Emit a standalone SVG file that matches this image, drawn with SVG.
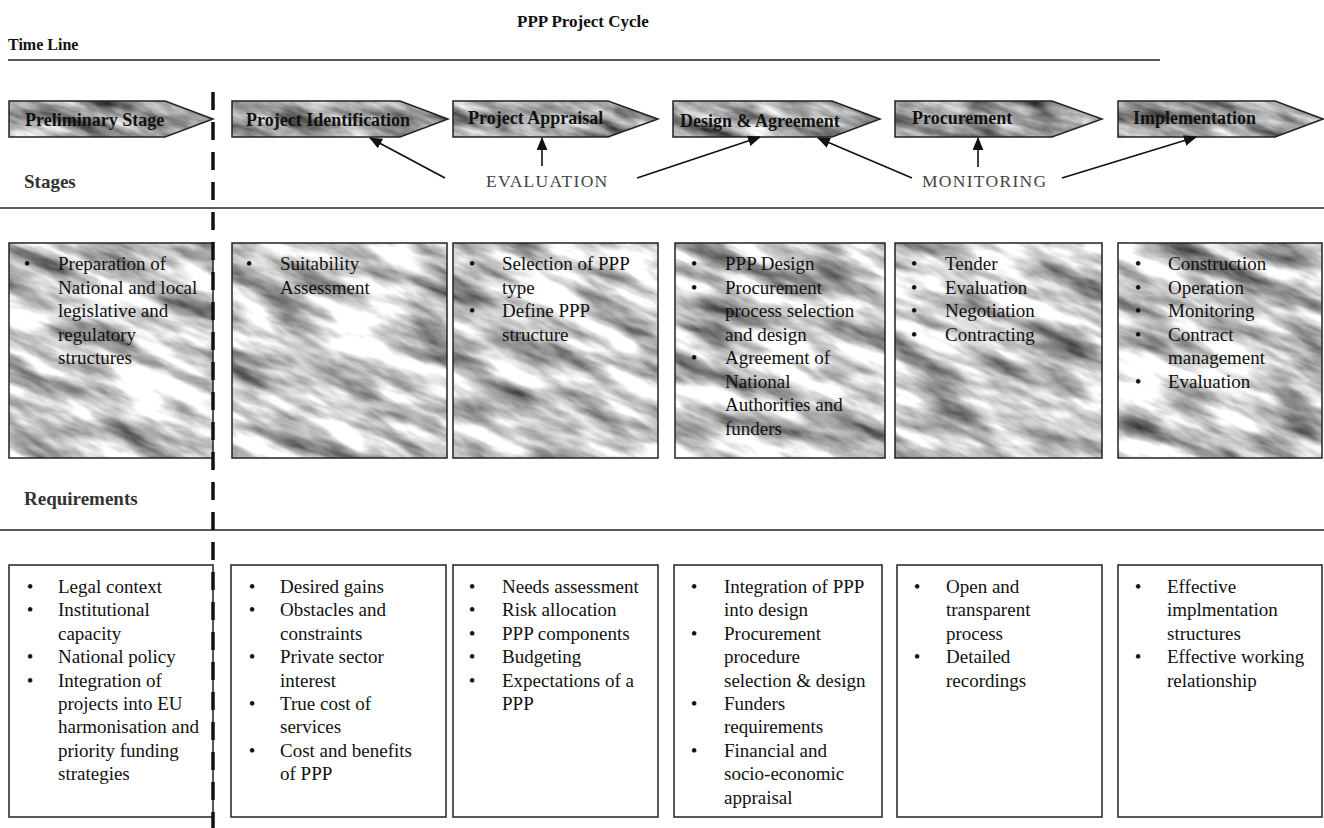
<svg xmlns="http://www.w3.org/2000/svg" width="1324" height="828" viewBox="0 0 1324 828">
<style>
  .t { font-family: "Liberation Serif", "Times New Roman", serif; fill: #111; }
  .title { font-size: 17px; font-weight: bold; }
  .hdr { font-size: 16px; font-weight: bold; }
  .sec { font-size: 19px; font-weight: bold; fill: #333; }
  .stg { font-size: 18px; font-weight: bold; }
  .cap { font-size: 17.5px; letter-spacing: 1.3px; fill: #444; }
  .b { font-size: 19px; }
  .bul { font-size: 19px; text-anchor: middle; }
  .rule { stroke: #222; stroke-width: 1.5; fill: none; }
  .box { fill: none; stroke: #222; stroke-width: 1.5; }
  .conn { stroke: #111; stroke-width: 1.6; fill: none; marker-end: url(#ah); }
  .lt { fill: url(#patL); }
  .dk { fill: url(#patD); }
</style>
<defs>
  <marker id="ah" viewBox="0 0 12 10" refX="11" refY="5" markerWidth="13" markerHeight="11" markerUnits="userSpaceOnUse" orient="auto">
    <path d="M0,0 L12,5 L0,10 z" fill="#111"/>
  </marker>
  <filter id="tex" x="0" y="0" width="100%" height="100%" color-interpolation-filters="sRGB">
    <feTurbulence type="fractalNoise" baseFrequency="0.012 0.045" numOctaves="4" seed="7" stitchTiles="stitch" result="n"/>
    <feColorMatrix in="n" type="matrix" values="1.5 0 0 0 0.04  1.5 0 0 0 0.04  1.5 0 0 0 0.04  0 0 0 0 1"/>
  </filter>
  <filter id="texd" x="0" y="0" width="100%" height="100%" color-interpolation-filters="sRGB">
    <feTurbulence type="fractalNoise" baseFrequency="0.02 0.07" numOctaves="4" seed="11" stitchTiles="stitch" result="n"/>
    <feColorMatrix in="n" type="matrix" values="1.1 0 0 0 0.08  1.1 0 0 0 0.08  1.1 0 0 0 0.08  0 0 0 0 1"/>
  </filter>
  <pattern id="patL" patternUnits="userSpaceOnUse" x="0" y="0" width="1400" height="900" patternTransform="rotate(22)">
    <rect width="1400" height="900" fill="#bbb" filter="url(#tex)"/>
  </pattern>
  <pattern id="patD" patternUnits="userSpaceOnUse" x="0" y="0" width="1400" height="900" patternTransform="rotate(18)">
    <rect width="1400" height="900" fill="#999" filter="url(#texd)"/>
  </pattern>
</defs>
<rect width="1324" height="828" fill="#fff"/>

<g id="header">
  <text class="t title" x="517" y="27">PPP Project Cycle</text>
  <text class="t hdr" x="8" y="50">Time Line</text>
  <line class="rule" x1="8" y1="60" x2="1160" y2="60"/>
  <line class="rule" x1="0" y1="208" x2="1324" y2="208"/>
  <line class="rule" x1="0" y1="530" x2="1324" y2="530"/>
  <text class="t sec" x="24" y="188">Stages</text>
  <text class="t sec" x="24" y="505">Requirements</text>
</g>

<g id="stage-preliminary">
  <polygon class="dk" points="9,101 165,101 213,119 165,137 9,137"/>
  <polygon class="box" points="9,101 165,101 213,119 165,137 9,137"/>
  <text class="t stg" x="25" y="126">Preliminary Stage</text>
</g>
<g id="stage-identification">
  <polygon class="dk" points="232,101 400,101 448,119 400,137 232,137"/>
  <polygon class="box" points="232,101 400,101 448,119 400,137 232,137"/>
  <text class="t stg" x="246" y="126">Project Identification</text>
</g>
<g id="stage-appraisal">
  <polygon class="dk" points="453,101 608,101 658,119 608,137 453,137"/>
  <polygon class="box" points="453,101 608,101 658,119 608,137 453,137"/>
  <text class="t stg" x="468" y="124">Project Appraisal</text>
</g>
<g id="stage-design">
  <polygon class="dk" points="673,101 832,101 880,119 832,137 673,137"/>
  <polygon class="box" points="673,101 832,101 880,119 832,137 673,137"/>
  <text class="t stg" x="680" y="127">Design &amp; Agreement</text>
</g>
<g id="stage-procurement">
  <polygon class="dk" points="895,101 1052,101 1102,119 1052,137 895,137"/>
  <polygon class="box" points="895,101 1052,101 1102,119 1052,137 895,137"/>
  <text class="t stg" x="912" y="124">Procurement</text>
</g>
<g id="stage-implementation">
  <polygon class="dk" points="1118,101 1275,101 1323,119 1275,137 1118,137"/>
  <polygon class="box" points="1118,101 1275,101 1323,119 1275,137 1118,137"/>
  <text class="t stg" x="1133" y="124">Implementation</text>
</g>

<g id="label-evaluation">
  <text class="t cap" x="486" y="187">EVALUATION</text>
</g>
<g id="label-monitoring">
  <text class="t cap" x="922" y="187">MONITORING</text>
</g>

<g id="connectors">
  <line class="conn" x1="445" y1="178" x2="370" y2="138"/>
  <line class="conn" x1="542" y1="166" x2="542" y2="138"/>
  <line class="conn" x1="637" y1="178" x2="760" y2="137"/>
  <line class="conn" x1="912" y1="178" x2="818" y2="138"/>
  <line class="conn" x1="978" y1="167" x2="978" y2="138"/>
  <line class="conn" x1="1062" y1="178" x2="1196" y2="137"/>
</g>

<g id="activities-preliminary">
  <rect class="lt" x="9" y="243" width="204" height="215"/>
  <rect class="box" x="9" y="243" width="204" height="215"/>
  <text class="t bul" x="27" y="270">•</text>
  <text class="t b" x="58" y="270">Preparation of</text>
  <text class="t b" x="58" y="293.5">National and local</text>
  <text class="t b" x="58" y="317">legislative and</text>
  <text class="t b" x="58" y="340.5">regulatory</text>
  <text class="t b" x="58" y="364">structures</text>
</g>
<g id="activities-identification">
  <rect class="lt" x="232" y="243" width="215" height="215"/>
  <rect class="box" x="232" y="243" width="215" height="215"/>
  <text class="t bul" x="249" y="270">•</text>
  <text class="t b" x="280" y="270">Suitability</text>
  <text class="t b" x="280" y="293.5">Assessment</text>
</g>
<g id="activities-appraisal">
  <rect class="lt" x="453" y="243" width="205" height="215"/>
  <rect class="box" x="453" y="243" width="205" height="215"/>
  <text class="t bul" x="472" y="270">•</text>
  <text class="t b" x="502" y="270">Selection of PPP</text>
  <text class="t b" x="502" y="293.5">type</text>
  <text class="t bul" x="472" y="317">•</text>
  <text class="t b" x="502" y="317">Define PPP</text>
  <text class="t b" x="502" y="340.5">structure</text>
</g>
<g id="activities-design">
  <rect class="lt" x="675" y="243" width="210" height="215"/>
  <rect class="box" x="675" y="243" width="210" height="215"/>
  <text class="t bul" x="694" y="270">•</text>
  <text class="t b" x="725" y="270">PPP Design</text>
  <text class="t bul" x="694" y="293.5">•</text>
  <text class="t b" x="725" y="293.5">Procurement</text>
  <text class="t b" x="725" y="317">process selection</text>
  <text class="t b" x="725" y="340.5">and design</text>
  <text class="t bul" x="694" y="364">•</text>
  <text class="t b" x="725" y="364">Agreement of</text>
  <text class="t b" x="725" y="387.5">National</text>
  <text class="t b" x="725" y="411">Authorities and</text>
  <text class="t b" x="725" y="434.5">funders</text>
</g>
<g id="activities-procurement">
  <rect class="lt" x="895" y="243" width="207" height="215"/>
  <rect class="box" x="895" y="243" width="207" height="215"/>
  <text class="t bul" x="914" y="270">•</text>
  <text class="t b" x="945" y="270">Tender</text>
  <text class="t bul" x="914" y="293.5">•</text>
  <text class="t b" x="945" y="293.5">Evaluation</text>
  <text class="t bul" x="914" y="317">•</text>
  <text class="t b" x="945" y="317">Negotiation</text>
  <text class="t bul" x="914" y="340.5">•</text>
  <text class="t b" x="945" y="340.5">Contracting</text>
</g>
<g id="activities-implementation">
  <rect class="lt" x="1118" y="243" width="204" height="215"/>
  <rect class="box" x="1118" y="243" width="204" height="215"/>
  <text class="t bul" x="1138" y="270">•</text>
  <text class="t b" x="1168" y="270">Construction</text>
  <text class="t bul" x="1138" y="293.5">•</text>
  <text class="t b" x="1168" y="293.5">Operation</text>
  <text class="t bul" x="1138" y="317">•</text>
  <text class="t b" x="1168" y="317">Monitoring</text>
  <text class="t bul" x="1138" y="340.5">•</text>
  <text class="t b" x="1168" y="340.5">Contract</text>
  <text class="t b" x="1168" y="364">management</text>
  <text class="t bul" x="1138" y="387.5">•</text>
  <text class="t b" x="1168" y="387.5">Evaluation</text>
</g>

<g id="requirements-preliminary">
  <rect class="box" x="9" y="565" width="204" height="252"/>
  <text class="t bul" x="30" y="593">•</text>
  <text class="t b" x="58" y="593">Legal context</text>
  <text class="t bul" x="30" y="616.4">•</text>
  <text class="t b" x="58" y="616.4">Institutional</text>
  <text class="t b" x="58" y="639.8">capacity</text>
  <text class="t bul" x="30" y="663.2">•</text>
  <text class="t b" x="58" y="663.2">National policy</text>
  <text class="t bul" x="30" y="686.6">•</text>
  <text class="t b" x="58" y="686.6">Integration of</text>
  <text class="t b" x="58" y="710">projects into EU</text>
  <text class="t b" x="58" y="733.4">harmonisation and</text>
  <text class="t b" x="58" y="756.8">priority funding</text>
  <text class="t b" x="58" y="780.2">strategies</text>
</g>
<g id="requirements-identification">
  <rect class="box" x="231" y="565" width="215" height="252"/>
  <text class="t bul" x="252" y="593">•</text>
  <text class="t b" x="280" y="593">Desired gains</text>
  <text class="t bul" x="252" y="616.4">•</text>
  <text class="t b" x="280" y="616.4">Obstacles and</text>
  <text class="t b" x="280" y="639.8">constraints</text>
  <text class="t bul" x="252" y="663.2">•</text>
  <text class="t b" x="280" y="663.2">Private sector</text>
  <text class="t b" x="280" y="686.6">interest</text>
  <text class="t bul" x="252" y="710">•</text>
  <text class="t b" x="280" y="710">True cost of</text>
  <text class="t b" x="280" y="733.4">services</text>
  <text class="t bul" x="252" y="756.8">•</text>
  <text class="t b" x="280" y="756.8">Cost and benefits</text>
  <text class="t b" x="280" y="780.2">of PPP</text>
</g>
<g id="requirements-appraisal">
  <rect class="box" x="453" y="565" width="205" height="252"/>
  <text class="t bul" x="472" y="593">•</text>
  <text class="t b" x="502" y="593">Needs assessment</text>
  <text class="t bul" x="472" y="616.4">•</text>
  <text class="t b" x="502" y="616.4">Risk allocation</text>
  <text class="t bul" x="472" y="639.8">•</text>
  <text class="t b" x="502" y="639.8">PPP components</text>
  <text class="t bul" x="472" y="663.2">•</text>
  <text class="t b" x="502" y="663.2">Budgeting</text>
  <text class="t bul" x="472" y="686.6">•</text>
  <text class="t b" x="502" y="686.6">Expectations of a</text>
  <text class="t b" x="502" y="710">PPP</text>
</g>
<g id="requirements-design">
  <rect class="box" x="674" y="565" width="208" height="252"/>
  <text class="t bul" x="694" y="593">•</text>
  <text class="t b" x="724" y="593">Integration of PPP</text>
  <text class="t b" x="724" y="616.4">into design</text>
  <text class="t bul" x="694" y="639.8">•</text>
  <text class="t b" x="724" y="639.8">Procurement</text>
  <text class="t b" x="724" y="663.2">procedure</text>
  <text class="t b" x="724" y="686.6">selection &amp; design</text>
  <text class="t bul" x="694" y="710">•</text>
  <text class="t b" x="724" y="710">Funders</text>
  <text class="t b" x="724" y="733.4">requirements</text>
  <text class="t bul" x="694" y="756.8">•</text>
  <text class="t b" x="724" y="756.8">Financial and</text>
  <text class="t b" x="724" y="780.2">socio-economic</text>
  <text class="t b" x="724" y="803.6">appraisal</text>
</g>
<g id="requirements-procurement">
  <rect class="box" x="897" y="565" width="205" height="252"/>
  <text class="t bul" x="917" y="593">•</text>
  <text class="t b" x="946" y="593">Open and</text>
  <text class="t b" x="946" y="616.4">transparent</text>
  <text class="t b" x="946" y="639.8">process</text>
  <text class="t bul" x="917" y="663.2">•</text>
  <text class="t b" x="946" y="663.2">Detailed</text>
  <text class="t b" x="946" y="686.6">recordings</text>
</g>
<g id="requirements-implementation">
  <rect class="box" x="1118" y="565" width="204" height="252"/>
  <text class="t bul" x="1138" y="593">•</text>
  <text class="t b" x="1167" y="593">Effective</text>
  <text class="t b" x="1167" y="616.4">implmentation</text>
  <text class="t b" x="1167" y="639.8">structures</text>
  <text class="t bul" x="1138" y="663.2">•</text>
  <text class="t b" x="1167" y="663.2">Effective working</text>
  <text class="t b" x="1167" y="686.6">relationship</text>
</g>

<g id="timeline-divider">
  <line x1="213" y1="92" x2="213" y2="828" stroke="#111" stroke-width="3.5" stroke-dasharray="18 12"/>
</g>
</svg>
